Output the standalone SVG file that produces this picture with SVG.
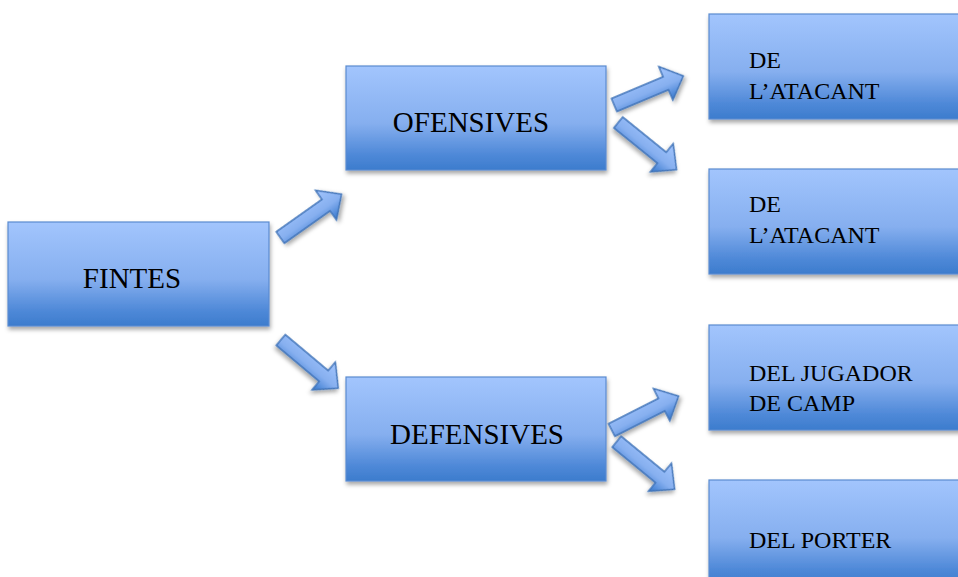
<svg xmlns="http://www.w3.org/2000/svg" xmlns:xlink="http://www.w3.org/1999/xlink" width="958" height="577" viewBox="0 0 958 577">
<defs>
<linearGradient id="g" x1="0" y1="0" x2="0" y2="1">
<stop offset="0" stop-color="#a2c5fd"/>
<stop offset="0.55" stop-color="#86afef"/>
<stop offset="0.85" stop-color="#4f89d8"/>
<stop offset="1" stop-color="#3c7ccd"/>
</linearGradient>
<filter id="sh" x="-10%" y="-10%" width="130%" height="140%">
<feDropShadow dx="1" dy="3" stdDeviation="2" flood-color="#000" flood-opacity="0.35"/>
</filter>
<path id="arr" d="M0,-7 H56 V-18 L75,0 L56,18 V7 H0 Z"/>
</defs>
<style>
.box{fill:url(#g);stroke:#5a8bd0;stroke-width:1.2;filter:url(#sh)}
.a{fill:url(#g);stroke:#3f73b8;stroke-width:1.4;filter:url(#sh)}
.big{font-family:"Liberation Serif",serif;font-size:29px;fill:#000;text-anchor:middle}
.sm{font-family:"Liberation Serif",serif;font-size:24px;fill:#000}
</style>
<g id="fintes">
<rect class="box" x="8" y="222" width="261" height="104"/>
<text class="big" x="132" y="288">FINTES</text>
</g>
<g id="ofensives">
<rect class="box" x="346" y="66" width="260" height="104"/>
<text class="big" x="471" y="132">OFENSIVES</text>
</g>
<g id="defensives">
<rect class="box" x="346" y="377" width="260" height="104"/>
<text class="big" x="477" y="444">DEFENSIVES</text>
</g>
<g id="atacant1">
<rect class="box" x="709" y="14" width="262" height="105"/>
<text class="sm" x="749" y="68">DE</text>
<text class="sm" x="749" y="99">L’ATACANT</text>
</g>
<g id="atacant2">
<rect class="box" x="709" y="169" width="262" height="105"/>
<text class="sm" x="749" y="212">DE</text>
<text class="sm" x="749" y="243">L’ATACANT</text>
</g>
<g id="jugador">
<rect class="box" x="709" y="325" width="262" height="105"/>
<text class="sm" x="749" y="381">DEL JUGADOR</text>
<text class="sm" x="749" y="411">DE CAMP</text>
</g>
<g id="porter">
<rect class="box" x="709" y="480" width="262" height="105"/>
<text class="sm" x="749" y="548">DEL PORTER</text>
</g>
<g id="connectors">
<use class="a" xlink:href="#arr" href="#arr" transform="translate(280.3,237.5) rotate(-35.3)"/>
<use class="a" xlink:href="#arr" href="#arr" transform="translate(280.8,340) rotate(40)"/>
<use class="a" xlink:href="#arr" href="#arr" transform="translate(614.2,105) rotate(-22.8)"/>
<use class="a" xlink:href="#arr" href="#arr" transform="translate(618.3,122.5) rotate(39)"/>
<use class="a" xlink:href="#arr" href="#arr" transform="translate(611.7,430) rotate(-26.9)"/>
<use class="a" xlink:href="#arr" href="#arr" transform="translate(616.7,441.7) rotate(39.4)"/>
</g>
</svg>
